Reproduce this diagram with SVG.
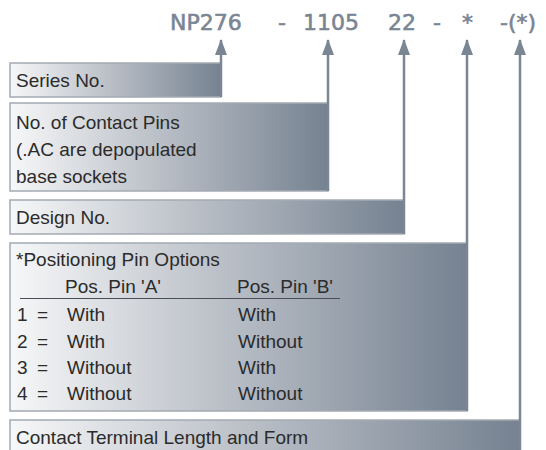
<svg xmlns="http://www.w3.org/2000/svg" width="546" height="450" viewBox="0 0 546 450">
<style>
.box{stroke:#a3aab3;stroke-width:1.5;fill:url(#g)}
.t{font-family:"Liberation Sans",Arial,sans-serif;font-size:19px;fill:#2b2b2b}
.h{font-family:"DejaVu Sans",sans-serif;font-size:22px;fill:#7a8594;stroke:#7a8594;stroke-width:0.6}
.c{stroke:#7b8694;stroke-width:2.5;fill:none}
</style>
<defs>
<linearGradient id="g" x1="0" y1="0" x2="1" y2="0">
<stop offset="0" stop-color="#f6f7f8"/>
<stop offset="0.35" stop-color="#c9cdd3"/>
<stop offset="1" stop-color="#768291"/>
</linearGradient>
<marker id="ah" viewBox="0 0 16 12" refX="15" refY="6" markerWidth="16" markerHeight="12" markerUnits="userSpaceOnUse" orient="auto">
<path d="M0,0 L16,6 L0,12 Z" fill="#7b8694"/>
</marker>
</defs>
<g id="title">
<text class="h" x="170" y="30">NP276</text>
<text class="h" x="278" y="30">-</text>
<text class="h" x="303" y="30">1105</text>
<text class="h" x="388" y="30">22</text>
<text class="h" x="433" y="30">-</text>
<text class="h" x="462" y="30">*</text>
<text class="h" x="500" y="30">-</text>
<text class="h" x="508" y="30">(*)</text>
</g>
<g id="n1">
<rect class="box" x="10" y="63" width="211" height="34"/>
<text class="t" x="16" y="87">Series No.</text>
</g>
<g id="n2">
<rect class="box" x="10" y="103" width="318" height="88"/>
<text class="t" x="16" y="129">No. of Contact Pins</text>
<text class="t" x="16" y="156">(.AC are depopulated</text>
<text class="t" x="16" y="183">base sockets</text>
</g>
<g id="n3">
<rect class="box" x="10" y="200" width="394" height="34"/>
<text class="t" x="16" y="224">Design No.</text>
</g>
<g id="n4">
<rect class="box" x="10" y="243" width="457" height="168"/>
<text class="t" x="16" y="266">*Positioning Pin Options</text>
<text class="t" x="65" y="293">Pos. Pin 'A'</text>
<text class="t" x="237" y="293">Pos. Pin 'B'</text>
<line x1="20" y1="298.5" x2="340" y2="298.5" stroke="#4a4f57" stroke-width="1"/>
<text class="t" x="17" y="321">1</text><text class="t" x="37" y="321">=</text><text class="t" x="67" y="321">With</text><text class="t" x="238" y="321">With</text>
<text class="t" x="17" y="348">2</text><text class="t" x="37" y="348">=</text><text class="t" x="67" y="348">With</text><text class="t" x="238" y="348">Without</text>
<text class="t" x="17" y="374">3</text><text class="t" x="37" y="374">=</text><text class="t" x="67" y="374">Without</text><text class="t" x="238" y="374">With</text>
<text class="t" x="17" y="400">4</text><text class="t" x="37" y="400">=</text><text class="t" x="67" y="400">Without</text><text class="t" x="238" y="400">Without</text>
</g>
<g id="n5">
<rect class="box" x="10" y="420" width="510" height="40"/>
<text class="t" x="16" y="444">Contact Terminal Length and Form</text>
</g>
<g id="connectors">
<line class="c" x1="221" y1="97" x2="221" y2="40" marker-end="url(#ah)"/>
<line class="c" x1="328" y1="191" x2="328" y2="40" marker-end="url(#ah)"/>
<line class="c" x1="404" y1="234" x2="404" y2="40" marker-end="url(#ah)"/>
<line class="c" x1="467" y1="411" x2="467" y2="40" marker-end="url(#ah)"/>
<line class="c" x1="520" y1="450" x2="520" y2="40" marker-end="url(#ah)"/>
</g>
</svg>
